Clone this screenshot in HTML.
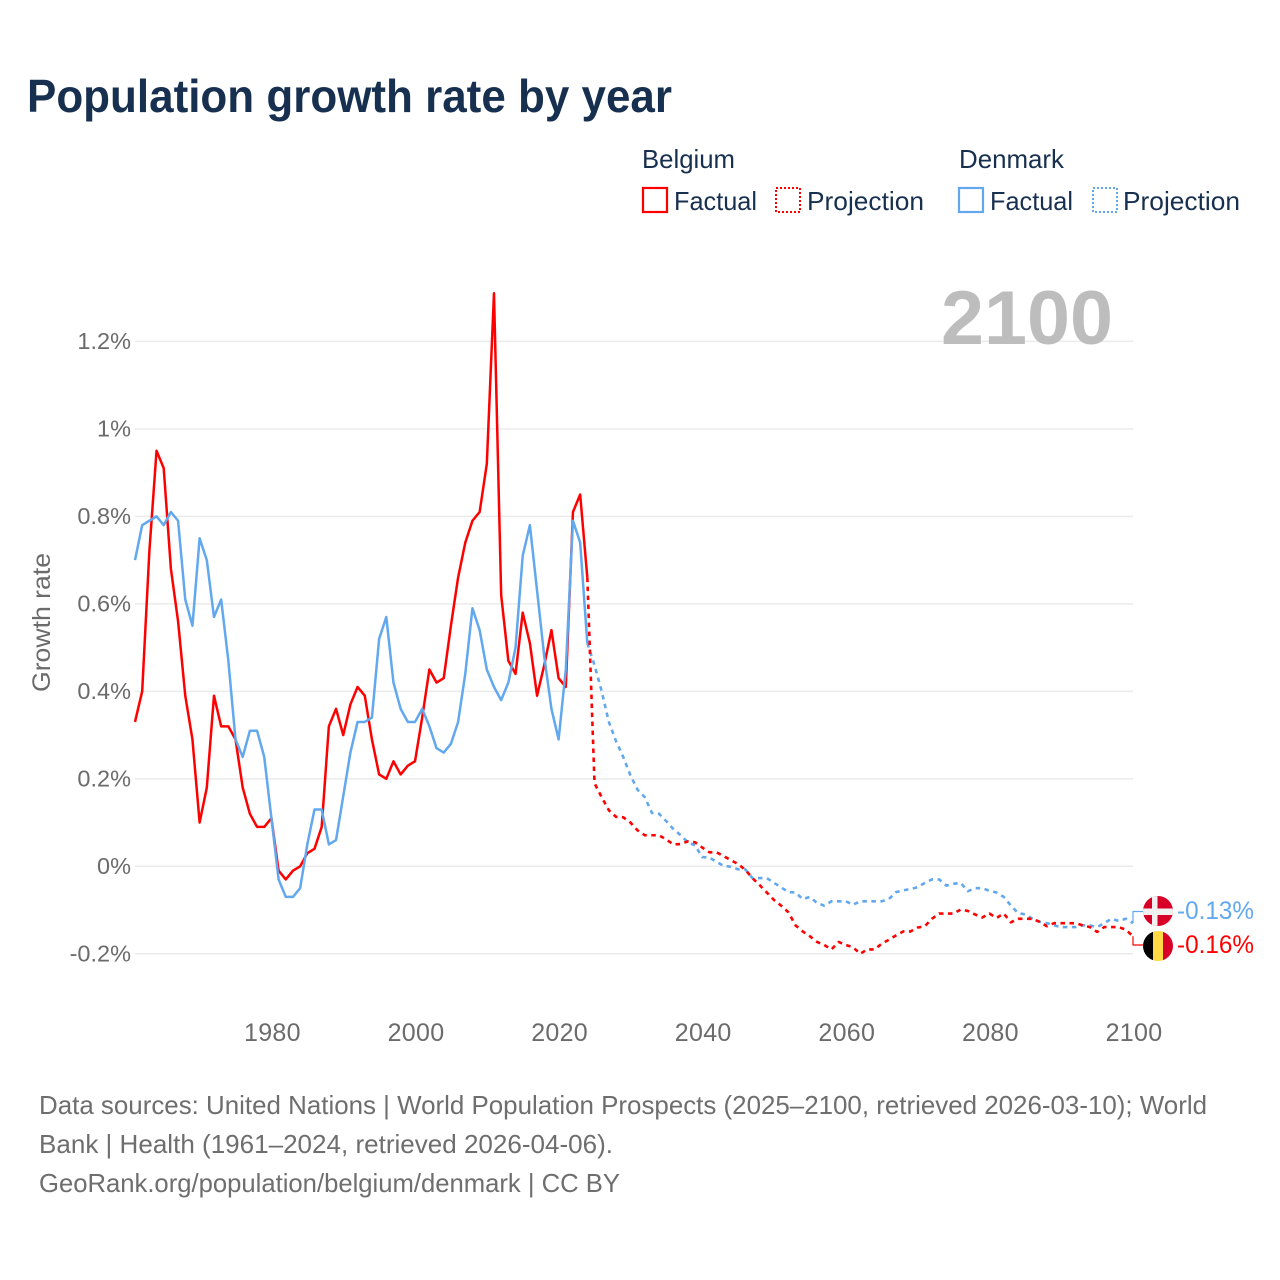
<!DOCTYPE html>
<html lang="en">
<head>
<meta charset="utf-8">
<title>Population growth rate by year</title>
<style>
html,body{margin:0;padding:0;background:#fff;}
svg{display:block;font-family:"Liberation Sans",sans-serif;}
</style>
</head>
<body>
<svg id="chart" xmlns="http://www.w3.org/2000/svg" width="1280" height="1280" viewBox="0 0 1280 1280">
  <rect width="1280" height="1280" fill="#fff"/>
  <text x="27" y="112" font-size="46" font-weight="700" fill="#18304f" textLength="645" lengthAdjust="spacingAndGlyphs">Population growth rate by year</text>

  <g font-size="26" fill="#18304f">
    <text x="642" y="168" textLength="93" lengthAdjust="spacingAndGlyphs">Belgium</text>
    <text x="959" y="168" textLength="105" lengthAdjust="spacingAndGlyphs">Denmark</text>
    <g>
      <rect x="643" y="188" width="24" height="24" fill="none" stroke="#ff0000" stroke-width="2.2"/>
      <text x="674" y="210" textLength="83" lengthAdjust="spacingAndGlyphs">Factual</text>
    </g>
    <g>
      <rect x="776" y="188" width="24" height="24" fill="none" stroke="#ff0000" stroke-width="2" stroke-dasharray="2 2"/>
      <text x="807" y="210" textLength="117" lengthAdjust="spacingAndGlyphs">Projection</text>
    </g>
    <g>
      <rect x="959" y="188" width="24" height="24" fill="none" stroke="#62a8ee" stroke-width="2.2"/>
      <text x="990" y="210" textLength="83" lengthAdjust="spacingAndGlyphs">Factual</text>
    </g>
    <g>
      <rect x="1093" y="188" width="24" height="24" fill="none" stroke="#62a8ee" stroke-width="2" stroke-dasharray="2 2"/>
      <text x="1123" y="210" textLength="117" lengthAdjust="spacingAndGlyphs">Projection</text>
    </g>
  </g>

  <text transform="translate(50,692) rotate(-90)" font-size="25" fill="#6b6b6b" textLength="139" lengthAdjust="spacingAndGlyphs">Growth rate</text>

  <g id="grid"></g>
  <text x="941" y="344" font-size="76" font-weight="700" fill="#bdbdbd" textLength="172" lengthAdjust="spacingAndGlyphs">2100</text>
  <g id="yTicks" font-size="23.5" fill="#6b6b6b" text-anchor="end"></g>
  <g id="xTicks" font-size="25" fill="#6b6b6b" text-anchor="middle" letter-spacing="0.3"></g>
  <g id="series" fill="none" stroke-linejoin="round"></g>

  <g>
    <clipPath id="clipDk"><circle cx="1158" cy="911" r="15"/></clipPath>
    <g clip-path="url(#clipDk)">
      <rect x="1143" y="896" width="30" height="30" fill="#d80027"/>
      <rect x="1152" y="896" width="5.5" height="30" fill="#f0f0f0"/>
      <rect x="1143" y="908.5" width="30" height="6.5" fill="#f0f0f0"/>
    </g>
  </g>
  <g>
    <clipPath id="clipBe"><circle cx="1158" cy="946" r="15"/></clipPath>
    <g clip-path="url(#clipBe)">
      <rect x="1143" y="931" width="10" height="30" fill="#000"/>
      <rect x="1153" y="931" width="10" height="30" fill="#ffda44"/>
      <rect x="1163" y="931" width="10" height="30" fill="#d80027"/>
    </g>
  </g>
  <text x="1177" y="919" font-size="25" fill="#62a8ee" textLength="77" lengthAdjust="spacingAndGlyphs">-0.13%</text>
  <text x="1177" y="953" font-size="25" fill="#ff0000" textLength="77" lengthAdjust="spacingAndGlyphs">-0.16%</text>

  <g font-size="26" fill="#6e6e6e">
    <text x="39" y="1114" textLength="1168" lengthAdjust="spacingAndGlyphs">Data sources: United Nations | World Population Prospects (2025–2100, retrieved 2026-03-10); World</text>
    <text x="39" y="1153" textLength="574" lengthAdjust="spacingAndGlyphs">Bank | Health (1961–2024, retrieved 2026-04-06).</text>
    <text x="39" y="1192" textLength="581" lengthAdjust="spacingAndGlyphs">GeoRank.org/population/belgium/denmark | CC BY</text>
  </g>
</svg>
<script>
const yTickValues = [1.2, 1, 0.8, 0.6, 0.4, 0.2, 0, -0.2];
const yTickLabels = ["1.2%", "1%", "0.8%", "0.6%", "0.4%", "0.2%", "0%", "-0.2%"];
const xTickYears = [1980, 2000, 2020, 2040, 2060, 2080, 2100];
const factualStartYear = 1961;
const projectionStartYear = 2024;

const belgiumFactual = [0.33,0.40,0.72,0.95,0.91,0.68,0.56,0.39,0.29,0.10,0.18,0.39,0.32,0.32,0.29,0.18,0.12,0.09,0.09,0.11,
  -0.01,-0.03,-0.01,0,0.03,0.04,0.09,0.32,0.36,0.30,0.37,0.41,0.39,0.29,0.21,0.20,0.24,0.21,0.23,0.24,
  0.34,0.45,0.42,0.43,0.55,0.66,0.74,0.79,0.81,0.92,1.31,0.62,0.47,0.44,0.58,0.51,0.39,0.46,0.54,0.43,0.41,0.81,0.85,0.66];
const denmarkFactual = [0.70,0.78,0.79,0.80,0.78,0.81,0.79,0.61,0.55,0.75,0.70,0.57,0.61,0.47,0.29,0.25,0.31,0.31,0.25,0.11,
  -0.03,-0.07,-0.07,-0.05,0.05,0.13,0.13,0.05,0.06,0.16,0.26,0.33,0.33,0.34,0.52,0.57,0.42,0.36,0.33,0.33,
  0.36,0.32,0.27,0.26,0.28,0.33,0.44,0.59,0.54,0.45,0.41,0.38,0.42,0.50,0.71,0.78,0.63,0.48,0.36,0.29,0.45,0.79,0.74,0.51];
const belgiumProjection = [0.66,0.19,0.158,0.128,0.113,0.112,0.10,0.082,0.071,0.071,0.071,0.061,0.05,0.051,0.057,0.055,
  0.043,0.032,0.032,0.023,0.014,0.005,-0.008,-0.027,-0.043,-0.06,-0.077,-0.09,-0.105,-0.135,-0.149,-0.16,
  -0.173,-0.18,-0.19,-0.173,-0.18,-0.185,-0.2,-0.19,-0.19,-0.177,-0.168,-0.158,-0.149,-0.149,-0.14,-0.137,
  -0.12,-0.108,-0.108,-0.108,-0.099,-0.102,-0.11,-0.117,-0.108,-0.118,-0.108,-0.128,-0.12,-0.12,-0.12,-0.127,
  -0.137,-0.13,-0.13,-0.13,-0.13,-0.135,-0.139,-0.15,-0.139,-0.139,-0.139,-0.145,-0.16];
const denmarkProjection = [0.51,0.46,0.40,0.33,0.286,0.25,0.208,0.175,0.158,0.122,0.12,0.103,0.085,0.071,0.055,0.048,
  0.021,0.02,0.01,0.001,-0.001,-0.007,-0.007,-0.027,-0.027,-0.027,-0.038,-0.048,-0.059,-0.06,-0.075,-0.07,
  -0.084,-0.09,-0.08,-0.08,-0.08,-0.088,-0.08,-0.08,-0.08,-0.08,-0.075,-0.059,-0.055,-0.052,-0.048,-0.038,
  -0.03,-0.03,-0.044,-0.04,-0.038,-0.057,-0.05,-0.05,-0.056,-0.06,-0.07,-0.09,-0.107,-0.11,-0.12,-0.127,
  -0.13,-0.135,-0.139,-0.139,-0.139,-0.135,-0.135,-0.139,-0.13,-0.12,-0.125,-0.12,-0.13];

const RED = "#ff0000";
const BLUE = "#62a8ee";
const NS = "http://www.w3.org/2000/svg";

function xScale(year) { return 135 + (year - 1961) * (998 / 139); }
function yScale(value) { return 866.3 - value * 437.4; }

function make(tag, parent, attrs) {
  const el = document.createElementNS(NS, tag);
  for (const k in attrs) el.setAttribute(k, attrs[k]);
  parent.appendChild(el);
  return el;
}
function linePath(values, startYear) {
  return values.map((v, i) => (i ? "L" : "M") + xScale(startYear + i).toFixed(2) + " " + yScale(v).toFixed(2)).join("");
}

const gridG = document.getElementById("grid");
const yG = document.getElementById("yTicks");
yTickValues.forEach((v, i) => {
  const ln = make("line", gridG, {x1: 135, x2: 1133, y1: yScale(v), y2: yScale(v), stroke: "#ebebeb", "stroke-width": 1.5});
  
  
  const t = make("text", yG, {x: 131, y: yScale(v) + 7.5});
  
  
  t.textContent = yTickLabels[i];
});

const xG = document.getElementById("xTicks");
xTickYears.forEach((yr) => {
  const t = make("text", xG, {x: xScale(yr) + 1, y: 1041});
  
  
  t.textContent = yr;
});

const seriesG = document.getElementById("series");

const dkProj = make("path", seriesG, {d: linePath(denmarkProjection, projectionStartYear), stroke: BLUE, "stroke-width": 2.6, "stroke-dasharray": "4.5 4.5"});



const beProj = make("path", seriesG, {d: linePath(belgiumProjection, projectionStartYear), stroke: RED, "stroke-width": 2.6, "stroke-dasharray": "4.5 4.5"});



const beFact = make("path", seriesG, {d: linePath(belgiumFactual, factualStartYear), stroke: RED, "stroke-width": 2.5});



const dkFact = make("path", seriesG, {d: linePath(denmarkFactual, factualStartYear), stroke: BLUE, "stroke-width": 2.5});



const endX = xScale(2100);
const dkEndY = yScale(denmarkProjection[denmarkProjection.length - 1]);
const beEndY = yScale(belgiumProjection[belgiumProjection.length - 1]);
const dkConn = make("path", seriesG, {d: "M" + endX + " " + dkEndY + "V911.5H1143", stroke: BLUE, "stroke-width": 1.2});


const beConn = make("path", seriesG, {d: "M" + endX + " " + beEndY + "V945H1143", stroke: RED, "stroke-width": 1.2});


</script>
</body>
</html>
